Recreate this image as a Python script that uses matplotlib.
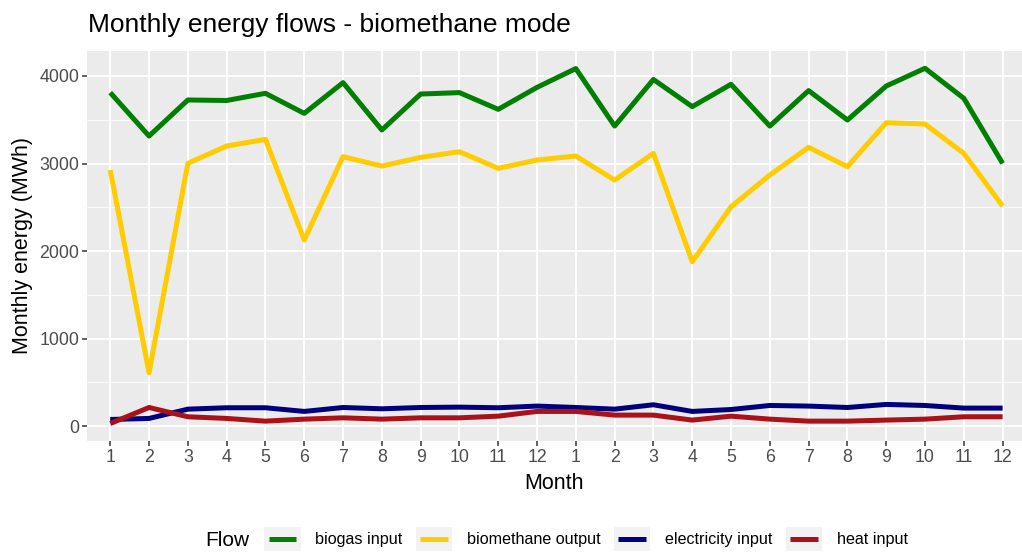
import matplotlib
matplotlib.use("Agg")
import matplotlib.pyplot as plt
from matplotlib.lines import Line2D
from matplotlib.patches import Rectangle
from matplotlib.legend_handler import HandlerLine2D, HandlerTuple
from matplotlib.ticker import MultipleLocator

plt.rcParams["font.family"] = ["Liberation Sans", "DejaVu Sans"]

# 24 months (two years), labelled 1..12 twice
month_labels = [str(m) for m in range(1, 13)] * 2

biogas_input = [3810, 3314, 3726, 3720, 3802, 3573, 3924, 3383, 3794, 3810, 3619, 3870,
                4085, 3428, 3960, 3650, 3905, 3428, 3833, 3497, 3885, 4088, 3745, 3002]
biomethane_output = [2926, 609, 3002, 3200, 3276, 2126, 3078, 2971, 3070, 3135, 2945, 3040,
                     3086, 2811, 3116, 1878, 2506, 2869, 3185, 2964, 3466, 3451, 3116, 2514]
electricity_input = [76, 88, 194, 210, 210, 168, 213, 198, 213, 217, 210, 229,
                     213, 194, 244, 168, 190, 236, 229, 213, 248, 236, 206, 206]
heat_input = [30, 213, 107, 88, 57, 80, 95, 80, 95, 95, 114, 168,
              168, 126, 126, 69, 114, 80, 57, 57, 69, 80, 107, 107]

series = [
    ("biogas input", biogas_input, "#007F00"),
    ("biomethane output", biomethane_output, "#FFCC00"),
    ("electricity input", electricity_input, "#00007F"),
    ("heat input", heat_input, "#AA1119"),
]


class ShortLine(HandlerLine2D):
    # ggplot draws the key line a bit inside the grey key box
    def create_artists(self, legend, orig_handle, xdescent, ydescent, width, height, fontsize, trans):
        inset = width * 0.12
        y = height / 2 - ydescent
        line = Line2D([inset - xdescent, width - inset - xdescent], [y, y])
        self.update_prop(line, orig_handle, legend)
        line.set_transform(trans)
        return [line]


fig = plt.figure(figsize=(10.22, 5.53), dpi=100)
ax = fig.add_axes([0.0851, 0.2025, 0.9149, 0.706])
ax.set_facecolor("#EBEBEB")
for s in ax.spines.values():
    s.set_visible(False)

x = list(range(len(month_labels)))
for name, vals, color in series:
    ax.plot(x, vals, color=color, linewidth=3.6, solid_capstyle="butt", zorder=3)

ax.set_xlim(-0.6, 23.5)
ax.set_ylim(-170, 4290)
ax.set_xticks(x)
ax.set_xticklabels(month_labels)
ax.yaxis.set_major_locator(MultipleLocator(1000))
ax.yaxis.set_minor_locator(MultipleLocator(500))
ax.grid(which="major", color="white", linewidth=1.3, zorder=1)
ax.grid(which="minor", axis="y", color="white", linewidth=0.6, zorder=1)
ax.tick_params(which="major", length=3.5, width=1.1, color="#333333",
               labelcolor="#4D4D4D", labelsize=12.8, pad=2)
ax.tick_params(which="minor", length=0)

ax.set_xlabel("Month", fontsize=15.5, labelpad=5)
ax.set_ylabel("Monthly energy (MWh)", fontsize=15.5, labelpad=5)
fig.text(88 / 1022, 1 - 25 / 553, "Monthly energy flows - biomethane mode",
         fontsize=19, va="center", ha="left")

# legend at the bottom, title on the left like ggplot
handles = [(Rectangle((0, 0), 1, 1, facecolor="#F2F2F2", edgecolor="none"),
            Line2D([], [], color=c, linewidth=3.6, solid_capstyle="butt")) for _, _, c in series]
labels = [n for n, _, _ in series]
fig.legend(handles, labels, loc="center", bbox_to_anchor=(586 / 1022, 1 - 539 / 553),
           ncol=4, frameon=False, fontsize=11.6, handlelength=2.25, handleheight=1.85,
           handletextpad=0.9, columnspacing=0.85, borderpad=0, borderaxespad=0,
           handler_map={tuple: HandlerTuple(ndivide=1), Line2D: ShortLine()})
fig.text(205 / 1022, 1 - 541 / 553, "Flow", fontsize=15, va="center", ha="left")

fig.savefig("out.png", dpi=100)
